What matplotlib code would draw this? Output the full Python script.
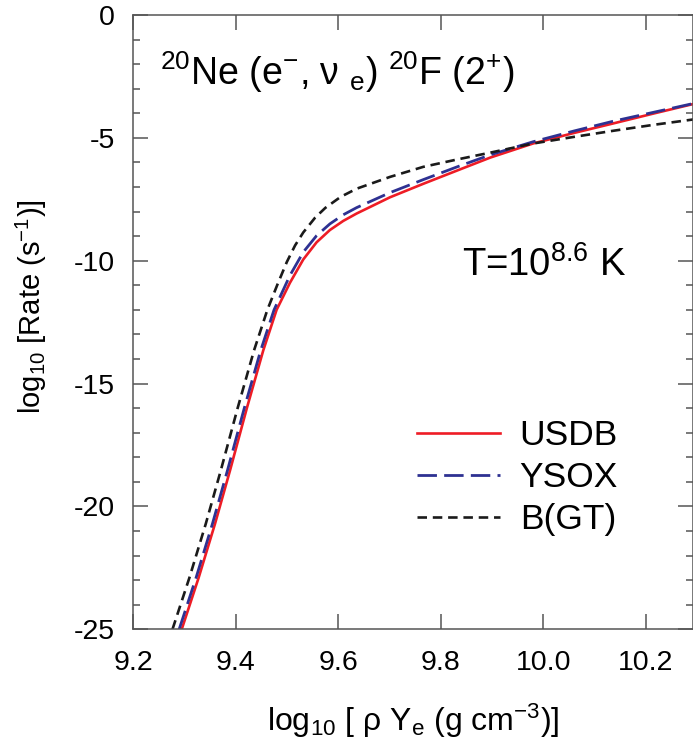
import matplotlib
matplotlib.use('Agg')
import matplotlib.pyplot as plt
from matplotlib.ticker import MultipleLocator

plt.rcParams['font.family'] = ['Liberation Sans', 'DejaVu Sans']
plt.rcParams['mathtext.fontset'] = 'custom'
plt.rcParams['mathtext.rm'] = 'Liberation Sans'
plt.rcParams['mathtext.it'] = 'Liberation Sans:italic'
plt.rcParams['axes.unicode_minus'] = False

# values
usdb_x = [9.295, 9.328, 9.360, 9.389, 9.422, 9.454, 9.480, 9.506, 9.532, 9.558,
          9.584, 9.610, 9.636, 9.701, 9.766, 9.832, 9.897, 9.980, 10.060, 10.137,
          10.215, 10.293]
usdb_y = [-25.0, -22.9, -20.7, -18.55, -16.0, -13.65, -12.0, -10.9, -9.95, -9.25,
          -8.75, -8.38, -8.08, -7.42, -6.87, -6.33, -5.80, -5.23, -4.80, -4.41,
          -4.01, -3.62]

ysox_x = [9.290, 9.323, 9.355, 9.384, 9.417, 9.449, 9.475, 9.506, 9.532, 9.558,
          9.584, 9.610, 9.636, 9.701, 9.766, 9.832, 9.897, 9.980, 10.060, 10.137,
          10.215, 10.293]
ysox_y = [-25.0, -22.9, -20.7, -18.55, -16.0, -13.65, -12.0, -10.6, -9.65, -8.98,
          -8.5, -8.13, -7.84, -7.23, -6.70, -6.18, -5.69, -5.16, -4.72, -4.32,
          -3.96, -3.60]

bgt_x = [9.277, 9.310, 9.342, 9.371, 9.404, 9.436, 9.462, 9.482, 9.500, 9.516,
         9.532, 9.555, 9.575, 9.605, 9.636, 9.701, 9.766, 9.832, 9.897, 9.980,
         10.060, 10.137, 10.215, 10.293]
bgt_y = [-25.0, -22.9, -20.7, -18.55, -16.0, -13.65, -12.0, -10.95, -10.05, -9.38,
         -8.85, -8.25, -7.85, -7.40, -7.07, -6.59, -6.18, -5.88, -5.60, -5.23,
         -4.96, -4.71, -4.47, -4.25]

xticks = [9.2, 9.4, 9.6, 9.8, 10.0, 10.2]
xticklabels = ['9.2', '9.4', '9.6', '9.8', '10.0', '10.2']

fig = plt.figure(figsize=(6.93, 7.47), dpi=100)
ax = fig.add_axes([133/693, 1-629.3/747, 560/693, (629.3-15)/747])

ax.plot(usdb_x, usdb_y, '-', color='#ee1c25', lw=1.9, label='USDB')
ax.plot(ysox_x, ysox_y, color='#2e3192', lw=2.0, dashes=(7, 2.6), label='YSOX')
ax.plot(bgt_x, bgt_y, color='#1a1a1a', lw=1.9, dashes=(3.6, 2.2), label='B(GT)')

ax.set_xlim(9.2, 10.292)
ax.set_ylim(-25, 0)
ax.set_xticks(xticks)
ax.set_xticklabels(xticklabels)
ax.yaxis.set_major_locator(MultipleLocator(5))
ax.yaxis.set_minor_locator(MultipleLocator(1))

for s in ax.spines.values():
    s.set_color('#555555')
    s.set_linewidth(1.1)
ax.tick_params(which='both', direction='in', top=True, right=True,
               color='#555555', width=1.1, labelsize=20.5)
ax.tick_params(which='major', length=10.8)
ax.tick_params(which='minor', length=5.3)
ax.tick_params(axis='x', which='major', pad=15)
ax.tick_params(axis='y', which='major', pad=13)

ax.set_xlabel(r'log$_{10}$ [ ρ Y$_{\mathregular{e}}$ (g cm$^{-3}$)]', fontsize=23)
ax.set_ylabel(r'log$_{10}$ [Rate (s$^{-1}$)]', fontsize=21)
ax.xaxis.set_label_coords(0.5, -0.118)
ax.yaxis.set_label_coords(-0.15, 0.525)

ax.text(0.048, 0.886, r'$^{20}$Ne (e$^{-}$, ν $_{\mathregular{e}}$) $^{20}$F (2$^{+}$)',
        transform=ax.transAxes, fontsize=27, va='baseline', ha='left')
ax.text(0.587, 0.575, r'T=10$^{8.6}$ K', transform=ax.transAxes,
        fontsize=27.5, va='baseline', ha='left')

ax.legend(loc='center left', bbox_to_anchor=(0.507, 0.247), frameon=False,
          fontsize=25.5, handlelength=2.35, handletextpad=0.55, labelspacing=0.25,
          borderpad=0, borderaxespad=0)

fig.savefig('out.png', dpi=100)
